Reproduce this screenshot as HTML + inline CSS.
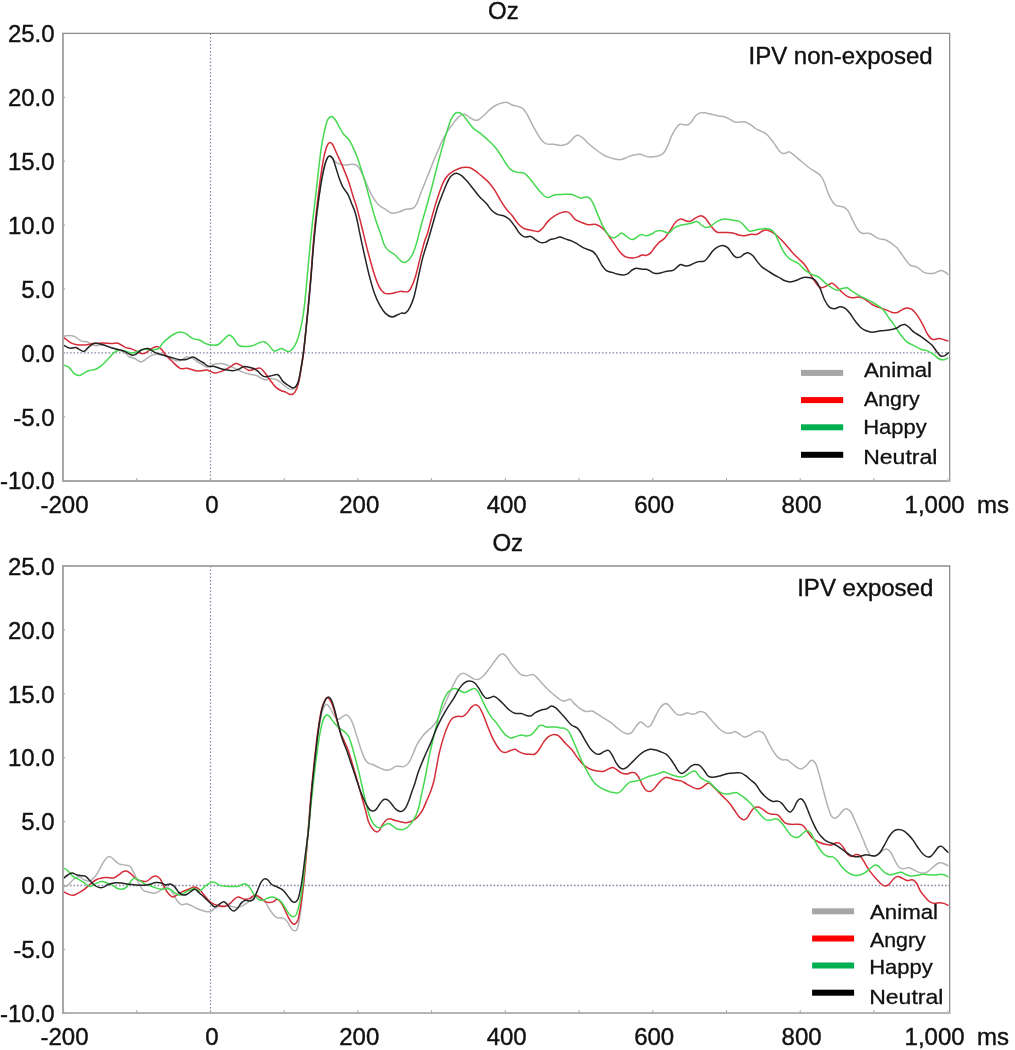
<!DOCTYPE html>
<html><head><meta charset="utf-8"><title>Oz ERP</title>
<style>
html,body{margin:0;padding:0;background:#fff;}
body{width:1015px;height:1050px;overflow:hidden;}
svg{display:block;position:absolute;left:0;top:0;will-change:transform;}
text{font-family:"Liberation Sans",sans-serif;fill:#111;stroke:#111;stroke-width:0.4px;stroke-linejoin:round;}
text.lg{stroke-width:0.3px;}
</style></head><body>
<svg width="1015" height="1050" viewBox="0 0 1015 1050">
<rect width="1015" height="1050" fill="#fff"/>
<g id="p1">
<line x1="63.0" y1="352.9" x2="949.65" y2="352.9" stroke="#8585a8" stroke-width="1.3" stroke-dasharray="1.6 1.9"/>
<line x1="210.5" y1="33.4" x2="210.5" y2="480.95" stroke="#8585a8" stroke-width="1.2" stroke-dasharray="1.6 1.9"/>
<path d="M63.1,336.4C64.0,336.2 66.7,335.4 68.6,335.4C70.5,335.4 72.2,335.4 74.3,336.4C76.4,337.3 79.3,340.2 81.4,341.1C83.5,342.0 85.2,341.1 87.1,341.7C89.0,342.3 91.2,344.3 92.9,345.0C94.6,345.7 95.4,345.7 97.1,345.7C98.8,345.7 100.3,344.6 102.9,345.0C105.5,345.4 109.6,346.8 112.9,347.9C116.2,349.0 120.3,350.0 122.9,351.4C125.5,352.8 126.7,355.2 128.6,356.4C130.5,357.5 132.3,357.4 134.3,358.3C136.3,359.2 138.8,361.7 140.7,361.9C142.6,362.1 143.9,360.4 145.7,359.3C147.5,358.2 149.5,356.2 151.4,355.4C153.3,354.6 154.7,354.2 157.1,354.3C159.5,354.4 162.8,354.8 165.7,355.7C168.6,356.6 171.9,359.2 174.3,360.0C176.7,360.8 178.0,361.2 180.0,360.7C182.0,360.2 184.2,357.5 186.4,357.1C188.6,356.8 190.9,357.7 192.9,358.6C194.9,359.5 196.9,361.4 198.6,362.5C200.3,363.6 201.6,364.2 203.0,365.0C204.4,365.8 205.2,367.2 207.1,367.1C209.0,367.0 211.9,364.9 214.3,364.3C216.7,363.7 219.0,363.4 221.4,363.6C223.8,363.8 226.2,364.9 228.6,365.7C231.0,366.5 233.3,367.5 235.7,368.6C238.1,369.7 240.5,371.2 242.9,372.1C245.3,373.1 247.6,373.7 250.0,374.3C252.4,374.9 254.7,374.8 257.1,375.7C259.5,376.6 261.9,379.2 264.3,379.7C266.7,380.2 269.3,378.6 271.4,378.6C273.5,378.7 275.2,379.1 277.1,380.0C279.0,380.9 281.0,382.9 282.9,384.3C284.8,385.7 286.9,387.8 288.6,388.6C290.3,389.4 291.5,389.5 292.9,389.0C294.3,388.5 295.9,388.5 297.1,385.7C298.4,382.9 299.3,377.6 300.4,372.0C301.4,366.4 302.4,359.5 303.4,352.0C304.3,344.5 305.3,334.9 306.1,327.0C306.9,319.1 307.6,313.0 308.4,304.3C309.2,295.6 310.2,284.9 311.0,275.0C311.8,265.1 312.4,255.6 313.4,245.0C314.4,234.4 315.6,222.0 316.9,211.4C318.2,200.8 319.9,189.2 321.2,181.4C322.5,173.6 323.7,168.5 324.8,164.5C325.9,160.5 326.8,158.8 327.7,157.5C328.6,156.2 328.9,155.9 330.0,156.4C331.1,156.9 332.9,159.5 334.3,160.7C335.7,161.9 336.9,162.9 338.6,163.6C340.3,164.3 342.2,164.9 344.3,165.0C346.4,165.1 349.4,164.3 351.4,164.3C353.4,164.3 355.0,164.2 356.4,165.0C357.8,165.8 358.7,167.0 360.0,169.3C361.3,171.6 362.9,175.4 364.3,178.6C365.7,181.8 367.2,185.5 368.6,188.6C370.0,191.7 371.2,194.4 372.9,197.1C374.6,199.8 376.5,203.0 378.6,205.0C380.7,207.0 383.6,208.0 385.7,209.3C387.8,210.7 389.2,212.6 391.4,213.1C393.5,213.6 396.2,212.7 398.6,212.1C401.0,211.5 403.3,209.9 405.7,209.3C408.1,208.7 411.1,209.1 412.9,208.3C414.7,207.5 415.5,205.7 416.4,204.3C417.3,203.0 417.3,202.4 418.2,200.2C419.1,198.0 420.2,194.5 421.5,191.3C422.8,188.1 424.3,184.3 425.7,180.8C427.1,177.3 428.6,173.7 429.9,170.4C431.2,167.1 432.3,164.1 433.6,160.9C434.9,157.7 436.3,154.6 437.7,151.3C439.1,148.0 440.4,144.6 442.1,141.2C443.8,137.8 446.0,133.8 447.9,130.7C449.8,127.6 451.7,125.3 453.6,122.9C455.5,120.5 457.5,117.8 459.3,116.4C461.1,115.0 462.6,114.2 464.3,114.3C466.0,114.4 467.6,116.1 469.3,117.1C471.0,118.0 472.8,119.6 474.3,120.0C475.9,120.4 477.1,120.4 478.6,119.7C480.2,119.0 481.8,117.3 483.6,115.7C485.4,114.1 487.2,111.8 489.3,110.0C491.4,108.2 494.3,106.2 496.4,105.0C498.5,103.8 500.3,103.3 502.1,102.9C503.9,102.5 505.4,102.1 507.1,102.4C508.8,102.8 510.3,104.3 512.1,105.0C513.9,105.7 516.1,105.8 517.9,106.4C519.7,107.0 521.4,107.3 522.9,108.6C524.4,109.9 525.7,111.9 527.1,114.3C528.5,116.7 529.9,119.9 531.4,122.9C532.9,125.9 534.7,129.2 536.4,132.1C538.1,134.9 539.7,138.0 541.4,140.0C543.1,142.0 544.4,143.2 546.4,143.9C548.4,144.6 551.2,144.1 553.6,144.3C556.0,144.6 558.6,145.4 560.7,145.4C562.8,145.4 564.9,144.9 566.4,144.3C567.9,143.7 568.6,142.9 570.0,141.6C571.4,140.3 573.6,137.4 575.0,136.4C576.4,135.4 577.2,135.0 578.6,135.4C580.0,135.8 581.8,137.1 583.6,138.6C585.4,140.1 587.2,142.4 589.3,144.3C591.4,146.2 594.0,148.2 596.4,150.0C598.8,151.8 601.2,153.7 603.6,155.0C606.0,156.3 608.3,157.1 610.7,157.9C613.1,158.7 616.0,159.4 617.9,159.6C619.8,159.8 620.4,159.8 622.1,159.3C623.8,158.9 626.0,157.6 627.9,156.9C629.8,156.2 631.6,155.4 633.6,155.0C635.6,154.6 638.2,154.2 640.0,154.3C641.8,154.4 642.8,155.2 644.3,155.7C645.8,156.2 647.5,157.0 649.3,157.1C651.1,157.2 653.7,156.6 655.0,156.5C656.3,156.4 655.8,156.9 657.1,156.4C658.4,155.9 661.2,155.2 662.9,153.6C664.6,152.0 665.7,150.0 667.1,147.1C668.5,144.2 670.0,139.5 671.4,136.4C672.8,133.3 674.3,130.6 675.7,128.6C677.1,126.6 678.6,124.9 680.0,124.3C681.4,123.7 683.0,124.6 684.3,124.7C685.6,124.8 686.7,125.4 687.9,125.0C689.1,124.6 690.1,123.6 691.4,122.1C692.7,120.5 694.3,117.2 695.7,115.7C697.1,114.2 698.3,113.4 700.0,112.9C701.7,112.4 703.8,112.7 705.7,112.9C707.6,113.1 709.2,113.8 711.4,114.3C713.5,114.8 716.5,115.6 718.6,116.0C720.8,116.4 722.4,116.2 724.3,116.7C726.2,117.2 728.2,118.4 730.0,119.3C731.8,120.2 733.3,121.6 735.0,122.1C736.7,122.6 738.3,122.1 740.0,122.1C741.7,122.1 743.3,121.5 745.0,121.9C746.7,122.3 748.2,123.2 750.0,124.3C751.8,125.4 753.8,127.4 755.7,128.6C757.6,129.8 759.7,130.6 761.4,131.4C763.1,132.2 764.3,132.5 765.7,133.6C767.1,134.7 768.6,136.2 770.0,137.9C771.4,139.6 772.9,141.6 774.3,143.6C775.7,145.6 777.3,148.4 778.6,150.0C779.9,151.6 780.9,152.8 782.1,153.3C783.3,153.8 784.5,153.4 785.7,153.2C786.9,153.0 787.7,151.4 789.2,151.9C790.8,152.4 792.9,154.3 795.0,156.0C797.1,157.7 799.3,159.7 801.8,161.8C804.3,163.9 807.0,166.3 810.1,168.5C813.2,170.7 817.8,172.8 820.2,175.2C822.6,177.6 822.9,179.3 824.4,182.8C825.9,186.3 827.6,192.5 829.4,196.2C831.2,199.9 833.1,203.2 835.3,205.0C837.5,206.8 840.7,205.8 842.8,206.7C844.9,207.6 846.3,208.4 847.8,210.4C849.3,212.4 850.6,216.0 852.0,218.8C853.4,221.6 854.7,224.8 856.2,227.2C857.7,229.6 859.0,231.9 861.2,233.0C863.4,234.1 867.2,232.8 869.6,233.5C872.0,234.2 873.8,236.0 875.5,236.9C877.2,237.8 877.9,238.4 879.6,238.9C881.3,239.4 883.4,238.9 885.5,239.7C887.6,240.5 890.2,242.5 892.2,243.9C894.2,245.3 895.2,245.9 897.2,248.1C899.2,250.3 901.8,254.5 903.9,257.3C906.0,260.1 907.6,263.1 909.8,264.8C912.0,266.5 914.9,266.1 917.3,267.4C919.7,268.7 922.0,271.4 924.0,272.4C926.0,273.4 927.4,273.4 929.1,273.5C930.8,273.6 932.2,273.7 934.1,273.2C936.0,272.7 939.0,270.6 940.8,270.4C942.6,270.2 943.8,271.3 945.0,272.0C946.2,272.7 947.3,274.0 947.8,274.4" fill="none" stroke="#b2b2b2" stroke-width="1.5" stroke-linejoin="round" stroke-linecap="round"/>
<path d="M63.1,337.1C63.8,337.6 65.7,339.0 67.1,340.0C68.5,341.0 69.7,342.3 71.4,343.1C73.1,343.9 74.5,344.4 77.1,344.7C79.7,345.0 84.5,344.9 87.1,344.7C89.7,344.5 90.3,343.9 92.9,343.6C95.5,343.3 99.8,342.9 102.9,342.9C106.0,342.9 109.0,343.6 111.4,343.6C113.8,343.6 115.4,342.7 117.1,342.9C118.8,343.1 120.0,344.2 121.4,345.0C122.8,345.8 124.0,347.0 125.7,347.6C127.4,348.2 129.5,348.3 131.4,348.9C133.3,349.5 135.4,350.6 137.1,351.4C138.8,352.2 140.0,353.4 141.4,353.6C142.8,353.9 144.0,353.7 145.7,352.9C147.4,352.1 149.5,349.7 151.4,348.6C153.3,347.5 155.4,346.3 157.1,346.4C158.8,346.5 160.0,347.9 161.4,349.3C162.8,350.7 164.0,353.1 165.7,355.0C167.4,356.9 169.0,358.5 171.4,360.7C173.8,362.9 177.4,367.0 180.0,368.3C182.6,369.6 184.7,368.0 187.1,368.3C189.5,368.6 192.2,369.9 194.3,370.4C196.5,370.8 197.9,371.1 200.0,371.0C202.1,370.9 204.7,369.7 207.1,370.0C209.5,370.3 211.9,372.7 214.3,372.9C216.7,373.1 219.0,372.2 221.4,371.4C223.8,370.6 226.2,369.2 228.6,367.9C231.0,366.6 233.6,364.0 235.7,363.6C237.8,363.2 239.2,364.6 241.4,365.7C243.6,366.8 246.4,369.7 248.6,370.3C250.8,370.9 252.4,369.7 254.3,369.3C256.2,368.9 258.3,367.6 260.0,368.1C261.7,368.6 262.6,370.1 264.3,372.1C266.0,374.1 268.1,377.5 270.0,380.0C271.9,382.5 273.8,385.3 275.7,387.1C277.6,388.9 279.7,389.9 281.4,390.7C283.1,391.5 284.1,391.5 285.7,392.1C287.2,392.8 289.1,394.6 290.7,394.6C292.2,394.6 293.7,394.1 295.0,392.1C296.3,390.2 297.5,387.1 298.6,382.9C299.7,378.7 300.6,372.1 301.4,367.1C302.2,362.1 302.8,359.6 303.6,352.9C304.4,346.2 305.4,335.1 306.2,327.0C307.0,318.9 307.6,313.0 308.4,304.3C309.2,295.6 310.1,285.7 311.0,275.0C311.9,264.3 312.7,250.6 313.6,240.0C314.5,229.4 315.3,221.2 316.4,211.4C317.5,201.6 318.8,190.2 320.0,181.4C321.2,172.6 322.4,164.6 323.6,158.6C324.8,152.6 326.0,148.4 327.1,145.7C328.2,143.0 329.0,142.7 330.0,142.6C331.0,142.5 331.7,143.1 332.9,145.0C334.1,146.9 335.4,150.6 337.1,154.3C338.8,158.0 341.0,162.6 342.9,167.1C344.8,171.6 346.9,176.6 348.6,181.4C350.3,186.2 351.5,191.2 352.9,195.7C354.3,200.2 355.4,202.6 357.1,208.6C358.8,214.6 361.0,223.8 362.9,231.4C364.8,239.0 366.7,247.2 368.6,254.3C370.5,261.4 372.5,268.8 374.3,274.3C376.1,279.8 377.6,284.0 379.3,287.1C381.0,290.2 382.3,292.0 384.3,293.1C386.3,294.2 388.8,293.9 391.4,293.6C394.0,293.3 397.2,291.7 400.0,291.4C402.8,291.1 406.0,292.4 407.9,291.7C409.8,291.0 410.1,289.8 411.4,287.1C412.7,284.4 414.3,280.4 415.7,275.7C417.1,270.9 418.5,264.5 420.0,258.6C421.5,252.7 423.5,244.8 424.8,240.5C426.1,236.2 426.5,236.7 427.6,233.0C428.7,229.3 430.1,223.3 431.5,218.5C432.9,213.7 434.3,208.4 435.7,203.9C437.1,199.4 438.5,195.0 439.8,191.3C441.1,187.6 442.2,184.5 443.5,181.9C444.8,179.3 445.9,177.4 447.7,175.6C449.4,173.8 451.6,172.2 454.0,170.9C456.4,169.6 459.8,168.2 462.4,167.6C464.9,167.0 467.2,167.1 469.3,167.6C471.4,168.1 472.9,169.2 475.0,170.7C477.1,172.2 479.7,174.4 482.1,176.4C484.5,178.4 487.2,180.5 489.3,182.9C491.4,185.3 493.1,187.7 495.0,190.7C496.9,193.7 498.8,197.6 500.7,200.7C502.6,203.8 504.5,206.8 506.4,209.3C508.3,211.8 510.2,213.1 512.1,215.5C514.0,217.9 516.0,221.4 517.9,223.5C519.8,225.6 521.2,227.2 523.6,228.3C526.0,229.5 529.6,229.9 532.1,230.4C534.6,230.9 536.8,231.8 538.6,231.4C540.4,231.0 541.4,229.6 542.9,227.9C544.4,226.2 545.9,223.4 547.9,221.4C549.9,219.4 552.6,217.2 555.0,215.7C557.4,214.2 560.0,213.0 562.1,212.4C564.2,211.8 566.4,211.7 567.9,212.1C569.4,212.5 570.2,213.8 571.4,215.0C572.6,216.2 573.5,218.1 575.0,219.3C576.5,220.5 578.6,221.2 580.7,222.1C582.9,223.0 585.5,224.3 587.9,224.7C590.3,225.1 593.0,224.0 595.0,224.3C597.0,224.6 598.3,225.3 600.0,226.4C601.7,227.5 603.2,228.7 605.0,230.7C606.8,232.7 608.8,235.9 610.7,238.6C612.6,241.3 614.6,244.6 616.4,247.1C618.2,249.6 619.7,251.9 621.4,253.6C623.1,255.3 624.5,256.4 626.4,257.1C628.3,257.8 631.0,257.9 632.9,257.9C634.8,257.9 636.4,257.4 637.9,256.9C639.4,256.4 640.7,255.3 642.1,255.0C643.5,254.7 645.0,255.7 646.4,255.3C647.8,255.0 649.3,254.3 650.7,252.9C652.1,251.5 653.6,248.8 655.0,247.1C656.4,245.4 657.5,243.9 659.0,242.5C660.5,241.1 662.5,240.6 664.3,238.6C666.1,236.6 668.1,233.4 670.0,230.7C671.9,227.9 673.9,224.0 675.7,222.1C677.5,220.2 679.0,219.2 680.7,219.0C682.4,218.8 684.2,220.3 685.7,220.7C687.2,221.1 688.3,221.9 690.0,221.4C691.7,220.9 693.9,218.9 695.7,217.9C697.5,216.9 699.2,215.7 700.7,215.7C702.2,215.7 703.6,216.6 705.0,217.9C706.4,219.2 707.9,221.7 709.3,223.6C710.7,225.5 712.2,227.8 713.6,229.3C715.0,230.8 715.9,231.9 717.9,232.4C719.9,232.9 723.2,232.3 725.7,232.4C728.2,232.5 730.8,232.5 732.9,232.9C735.0,233.3 736.7,234.5 738.6,235.0C740.5,235.5 742.2,235.8 744.3,235.7C746.4,235.6 749.3,234.5 751.4,234.3C753.5,234.1 755.2,234.9 757.1,234.3C759.0,233.7 761.4,231.4 762.9,230.7C764.4,230.0 765.0,229.8 766.4,230.0C767.8,230.2 769.6,231.0 771.4,231.9C773.2,232.8 775.2,234.1 777.1,235.7C779.0,237.3 781.0,239.5 782.9,241.5C784.8,243.5 787.1,246.2 788.6,247.9C790.1,249.6 790.1,250.0 791.7,251.8C793.3,253.6 796.2,256.3 798.4,258.5C800.6,260.7 803.1,262.7 805.1,265.2C807.1,267.7 808.4,270.8 810.1,273.6C811.8,276.4 813.5,279.6 815.2,281.9C816.9,284.2 818.5,286.7 820.2,287.5C821.9,288.3 823.2,287.3 825.2,286.6C827.2,285.9 830.0,283.2 831.9,283.3C833.8,283.4 835.2,285.5 836.9,287.0C838.6,288.5 840.2,290.7 842.0,292.3C843.8,293.9 846.0,295.8 847.8,296.7C849.6,297.6 851.0,297.8 852.8,297.8C854.6,297.9 856.6,296.7 858.7,297.0C860.8,297.3 863.2,298.2 865.4,299.5C867.6,300.8 869.9,303.2 872.1,304.5C874.3,305.8 876.6,306.5 878.8,307.4C881.0,308.2 883.3,308.8 885.5,309.6C887.7,310.4 890.2,311.9 892.2,312.4C894.2,312.9 895.5,313.1 897.2,312.6C898.9,312.1 900.6,310.4 902.3,309.6C904.0,308.8 905.6,307.9 907.3,307.9C909.0,307.9 910.6,308.4 912.3,309.6C914.0,310.9 915.6,313.0 917.3,315.4C919.0,317.8 920.7,320.7 922.4,323.8C924.1,326.9 925.7,331.3 927.4,333.9C929.1,336.5 930.4,338.6 932.4,339.4C934.4,340.2 937.1,338.4 939.1,338.5C941.1,338.6 942.7,339.3 944.1,339.7C945.5,340.1 947.2,340.7 947.8,340.9" fill="none" stroke="#d52c38" stroke-width="1.5" stroke-linejoin="round" stroke-linecap="round"/>
<path d="M63.1,365.0C64.0,365.4 66.7,365.7 68.6,367.1C70.5,368.5 72.5,372.2 74.3,373.6C76.1,375.0 77.6,375.5 79.3,375.4C81.0,375.3 82.8,373.7 84.3,372.9C85.8,372.1 86.7,371.3 88.6,370.7C90.5,370.1 93.6,370.1 95.7,369.3C97.8,368.5 99.5,367.2 101.4,365.7C103.3,364.1 105.2,362.0 107.1,360.0C109.0,358.0 111.2,355.2 112.9,353.6C114.6,352.1 115.2,351.2 117.1,350.7C119.0,350.2 121.9,350.3 124.3,350.7C126.7,351.1 129.3,352.7 131.4,352.9C133.5,353.1 134.9,352.3 137.1,351.7C139.2,351.1 141.9,349.6 144.3,349.3C146.7,349.0 149.0,350.1 151.4,350.0C153.8,349.9 156.7,349.8 158.6,348.6C160.5,347.4 161.2,344.7 162.9,342.9C164.6,341.1 166.7,339.4 168.6,337.9C170.5,336.4 172.4,335.0 174.3,334.0C176.2,333.0 178.1,332.2 180.0,332.1C181.9,332.0 183.5,332.5 185.7,333.6C187.8,334.7 190.5,337.5 192.9,338.6C195.3,339.7 197.9,339.4 200.0,340.2C202.1,341.0 203.8,342.8 205.7,343.6C207.6,344.4 209.4,344.8 211.4,345.0C213.4,345.2 215.9,345.6 217.9,344.7C219.9,343.8 221.7,341.3 223.6,339.7C225.5,338.1 227.5,335.1 229.3,335.0C231.1,334.9 232.6,337.5 234.3,339.3C236.0,341.1 236.5,344.6 239.3,345.7C242.2,346.8 248.2,346.5 251.4,346.0C254.6,345.5 256.5,343.6 258.6,342.9C260.8,342.2 262.6,341.3 264.3,341.7C266.0,342.1 266.9,343.4 268.6,345.0C270.3,346.6 272.2,350.5 274.3,351.1C276.4,351.7 279.0,348.5 281.4,348.6C283.8,348.7 286.5,352.1 288.6,351.7C290.8,351.3 292.7,348.8 294.3,346.4C295.9,344.0 296.9,341.7 298.2,337.5C299.5,333.3 301.0,326.9 302.1,321.4C303.2,315.9 303.5,314.3 304.6,304.3C305.7,294.3 307.4,274.5 308.6,261.4C309.9,248.3 311.1,235.1 312.1,225.7C313.1,216.3 313.6,213.3 314.6,205.0C315.6,196.7 316.8,185.3 317.9,175.7C319.0,166.0 320.2,154.9 321.4,147.1C322.6,139.2 323.9,133.2 325.0,128.6C326.1,124.0 326.8,121.3 327.9,119.3C329.0,117.3 330.2,116.4 331.4,116.4C332.6,116.4 333.7,117.5 335.0,119.3C336.3,121.1 337.9,124.6 339.3,127.1C340.7,129.6 342.1,132.3 343.6,134.3C345.2,136.3 347.1,137.2 348.6,139.3C350.2,141.4 351.5,144.1 352.9,147.1C354.3,150.1 355.7,153.3 357.1,157.1C358.5,160.9 360.0,165.5 361.4,170.0C362.8,174.5 364.3,179.3 365.7,184.3C367.1,189.3 368.3,194.1 370.0,200.0C371.7,205.9 373.8,214.0 375.7,220.0C377.6,226.0 380.0,231.8 381.4,236.0C382.8,240.2 383.1,242.6 384.3,245.0C385.5,247.4 386.9,249.1 388.6,250.7C390.3,252.2 392.4,252.8 394.3,254.3C396.2,255.9 398.3,258.6 400.0,260.0C401.7,261.4 402.9,262.6 404.3,262.6C405.7,262.6 407.2,261.5 408.6,260.0C410.0,258.5 411.5,256.7 412.9,253.6C414.3,250.5 415.7,246.3 417.1,241.4C418.5,236.5 420.0,229.6 421.4,224.3C422.8,219.0 424.1,215.0 425.7,209.5C427.2,204.0 428.9,198.2 430.7,191.5C432.5,184.8 434.5,176.6 436.4,169.3C438.3,162.0 440.3,154.3 442.1,147.9C443.9,141.5 445.6,135.6 447.1,130.7C448.7,125.8 450.1,121.4 451.4,118.6C452.7,115.8 453.8,114.6 455.0,113.6C456.2,112.6 457.3,112.4 458.6,112.6C459.9,112.8 461.3,113.5 462.9,115.0C464.4,116.5 466.1,119.1 467.9,121.4C469.7,123.7 471.5,126.6 473.6,128.6C475.7,130.6 478.3,131.7 480.7,133.6C483.1,135.5 485.5,137.8 487.9,140.0C490.3,142.2 492.9,144.6 495.0,147.1C497.1,149.6 498.8,152.1 500.7,155.0C502.6,157.9 504.7,161.9 506.4,164.3C508.1,166.7 509.0,168.3 510.7,169.6C512.4,170.9 514.2,171.5 516.4,172.1C518.5,172.7 521.7,172.2 523.6,172.9C525.5,173.6 526.2,174.6 527.9,176.4C529.6,178.2 531.7,181.2 533.6,183.6C535.5,186.0 537.5,188.6 539.3,190.7C541.1,192.8 542.8,194.9 544.3,196.0C545.8,197.1 546.8,197.6 548.6,197.4C550.4,197.2 552.8,195.3 555.0,194.8C557.2,194.3 559.4,194.5 562.1,194.4C564.8,194.3 569.0,194.0 571.4,194.3C573.8,194.6 574.8,195.8 576.4,196.4C578.0,197.0 579.2,198.0 580.7,198.1C582.2,198.2 584.3,196.9 585.7,196.9C587.1,196.9 588.1,196.9 589.3,197.9C590.5,198.9 591.7,200.7 592.9,202.9C594.1,205.2 595.1,208.3 596.4,211.4C597.7,214.5 599.3,218.3 600.7,221.4C602.1,224.5 603.6,227.6 605.0,230.0C606.4,232.4 607.9,234.4 609.3,235.7C610.7,237.0 612.2,237.9 613.6,237.9C615.0,237.9 616.6,236.5 617.9,235.7C619.2,234.9 620.1,233.1 621.4,233.1C622.7,233.1 624.3,234.7 625.7,235.7C627.1,236.7 628.7,238.3 630.0,238.9C631.3,239.5 632.3,239.7 633.6,239.3C634.9,238.9 636.6,237.2 637.9,236.4C639.2,235.6 640.0,234.7 641.4,234.6C642.8,234.5 644.6,235.8 646.4,235.7C648.2,235.6 650.5,234.5 652.1,233.8C653.7,233.1 654.2,231.9 655.7,231.4C657.2,230.9 659.2,230.4 661.4,230.7C663.5,230.9 666.5,233.4 668.6,232.9C670.8,232.4 672.2,229.2 674.3,227.9C676.4,226.6 678.8,225.7 681.4,225.0C684.0,224.3 687.4,224.2 690.0,223.6C692.6,223.0 695.2,221.2 697.1,221.4C699.0,221.6 699.9,224.0 701.4,225.0C702.9,226.0 704.7,227.5 706.4,227.6C708.1,227.7 709.6,226.7 711.4,225.7C713.2,224.7 715.0,222.5 717.1,221.4C719.2,220.3 721.9,219.2 724.3,219.0C726.7,218.8 729.0,219.7 731.4,220.0C733.8,220.3 736.7,220.4 738.6,221.1C740.5,221.8 741.2,222.7 742.9,224.3C744.6,225.9 746.9,229.6 748.6,230.7C750.3,231.8 751.2,230.9 752.9,230.7C754.6,230.5 756.5,229.7 758.6,229.3C760.7,229.0 763.6,228.5 765.7,228.6C767.8,228.7 769.7,228.9 771.4,230.0C773.1,231.1 774.4,232.8 775.7,235.0C777.0,237.2 778.1,240.4 779.3,243.0C780.5,245.6 781.6,248.5 782.9,250.7C784.2,252.9 785.6,254.8 787.1,256.4C788.6,258.0 789.8,259.0 791.7,260.2C793.6,261.4 796.2,261.8 798.4,263.5C800.6,265.2 802.9,268.4 805.1,270.2C807.3,272.0 809.6,273.3 811.8,274.4C814.0,275.5 816.3,275.5 818.5,276.9C820.7,278.3 823.0,281.0 825.2,282.8C827.4,284.6 830.0,286.6 831.9,287.8C833.8,289.1 835.2,290.2 836.9,290.3C838.6,290.4 840.3,289.0 842.0,288.6C843.7,288.2 845.3,287.4 847.0,287.8C848.7,288.2 850.0,289.9 852.0,291.1C854.0,292.4 856.5,294.0 858.7,295.3C860.9,296.6 863.2,297.6 865.4,298.7C867.6,299.8 869.9,300.8 872.1,302.0C874.3,303.2 876.8,304.8 878.8,306.2C880.8,307.6 882.1,308.4 883.8,310.4C885.5,312.3 887.2,315.5 888.9,317.9C890.6,320.3 891.9,321.8 893.9,324.6C895.9,327.4 898.4,331.8 900.6,334.7C902.8,337.6 905.1,340.4 907.3,342.2C909.5,344.0 911.8,344.4 914.0,345.6C916.2,346.8 918.5,348.4 920.7,349.3C922.9,350.2 925.2,350.0 927.4,350.9C929.6,351.8 932.1,353.4 934.1,354.8C936.1,356.2 937.4,358.2 939.1,359.0C940.8,359.8 942.7,359.9 944.1,359.8C945.5,359.7 947.2,358.4 947.8,358.1" fill="none" stroke="#44d94f" stroke-width="1.5" stroke-linejoin="round" stroke-linecap="round"/>
<path d="M63.1,345.0C64.2,345.6 67.9,347.9 70.0,348.3C72.1,348.7 73.4,347.1 75.7,347.6C78.0,348.1 81.4,351.5 83.6,351.4C85.8,351.3 86.8,348.5 88.6,347.1C90.4,345.8 92.2,343.8 94.3,343.3C96.4,342.8 98.3,343.5 101.4,344.3C104.5,345.1 109.3,347.2 112.9,348.3C116.5,349.4 119.8,349.6 122.9,350.7C126.0,351.8 129.3,354.4 131.4,355.0C133.5,355.6 134.0,355.1 135.7,354.3C137.4,353.5 139.4,350.9 141.4,350.0C143.4,349.1 145.8,348.2 147.9,348.6C150.1,349.0 151.8,351.0 154.3,352.1C156.8,353.2 159.8,354.0 162.9,355.0C166.0,356.0 170.1,357.1 172.9,357.9C175.8,358.7 177.6,359.5 180.0,359.7C182.4,359.9 184.9,359.8 187.1,359.3C189.2,358.8 191.0,356.8 192.9,356.9C194.8,357.0 196.9,359.1 198.6,360.0C200.3,360.9 201.3,361.4 203.0,362.5C204.7,363.6 206.7,365.8 208.6,366.4C210.5,367.0 211.9,365.9 214.3,366.4C216.7,366.9 219.8,368.6 222.9,369.3C226.0,370.0 230.3,370.7 232.9,370.7C235.5,370.7 236.7,370.0 238.6,369.3C240.5,368.6 241.9,366.6 244.3,366.4C246.7,366.2 250.8,367.6 252.9,368.3C255.0,369.0 255.3,369.4 257.1,370.7C258.9,372.0 261.5,375.5 263.6,376.4C265.8,377.3 267.6,376.4 270.0,376.1C272.4,375.8 275.8,373.8 277.9,374.7C280.0,375.6 281.1,379.6 282.9,381.4C284.7,383.2 286.8,384.6 288.6,385.7C290.4,386.8 292.1,388.4 293.6,387.9C295.2,387.4 296.7,385.9 297.9,382.9C299.1,379.9 299.8,375.2 300.7,370.0C301.6,364.8 302.7,358.6 303.6,351.4C304.5,344.2 305.5,334.9 306.3,327.0C307.1,319.1 307.8,313.0 308.6,304.3C309.4,295.6 310.4,284.9 311.2,275.0C312.0,265.1 312.6,255.6 313.6,245.0C314.6,234.4 315.8,222.0 317.1,211.4C318.4,200.8 320.1,189.2 321.4,181.4C322.7,173.6 323.9,168.4 325.0,164.3C326.1,160.2 327.1,158.5 327.9,157.1C328.7,155.7 329.2,155.8 330.0,156.0C330.8,156.2 331.9,156.8 332.9,158.6C333.8,160.4 334.6,163.8 335.7,167.1C336.8,170.4 338.1,175.3 339.3,178.6C340.5,181.9 341.5,184.5 342.9,187.1C344.3,189.7 346.5,191.7 347.9,194.3C349.3,196.9 350.1,199.6 351.4,202.9C352.7,206.2 354.3,209.1 355.7,214.3C357.1,219.5 358.6,227.6 360.0,234.3C361.4,241.0 362.8,247.4 364.3,254.3C365.9,261.2 367.6,269.3 369.3,275.7C371.0,282.1 372.5,287.9 374.3,292.9C376.1,297.9 378.1,302.2 380.0,305.7C381.9,309.1 383.7,311.7 385.7,313.6C387.7,315.5 390.2,316.7 392.1,316.9C394.0,317.1 395.6,315.6 397.1,315.0C398.7,314.4 400.0,313.5 401.4,313.1C402.8,312.8 404.3,313.9 405.7,312.9C407.1,311.9 408.6,310.0 410.0,307.1C411.4,304.2 412.9,300.9 414.3,295.7C415.7,290.5 417.2,282.1 418.6,275.7C420.0,269.3 421.3,263.1 422.9,257.1C424.5,251.1 426.6,245.3 428.3,239.5C430.0,233.7 431.6,227.9 433.2,222.5C434.8,217.1 436.2,211.5 437.7,207.0C439.1,202.5 440.5,199.2 441.9,195.5C443.3,191.8 444.8,188.0 446.1,185.0C447.4,182.0 448.5,179.5 449.8,177.7C451.1,175.8 452.7,174.6 454.0,173.9C455.3,173.2 456.1,173.1 457.4,173.4C458.7,173.7 460.2,174.5 461.8,175.8C463.4,177.1 465.2,179.1 467.2,181.3C469.2,183.6 471.6,186.8 473.6,189.3C475.6,191.8 477.2,194.0 479.3,196.4C481.4,198.8 484.3,201.2 486.4,203.6C488.5,206.0 490.2,208.9 492.1,210.7C494.0,212.5 496.0,213.8 497.9,214.6C499.8,215.4 501.7,214.9 503.6,215.7C505.5,216.5 507.4,217.5 509.3,219.3C511.2,221.1 513.3,224.2 515.0,226.5C516.7,228.8 517.8,231.2 519.3,232.9C520.8,234.6 522.4,236.3 524.3,236.9C526.2,237.5 528.9,236.0 530.7,236.4C532.5,236.8 533.5,238.3 535.0,239.3C536.5,240.3 538.3,241.9 540.0,242.4C541.7,242.9 543.3,242.9 545.0,242.4C546.7,241.9 548.3,240.3 550.0,239.7C551.7,239.1 553.3,239.1 555.0,238.6C556.7,238.1 558.3,236.8 560.0,236.9C561.7,237.0 563.0,238.2 565.0,238.9C567.0,239.6 570.0,240.2 572.1,241.1C574.2,242.0 576.0,243.2 577.9,244.3C579.8,245.4 581.7,247.0 583.6,247.9C585.5,248.8 587.6,249.3 589.3,250.0C591.0,250.7 592.2,250.8 593.6,252.1C595.0,253.4 596.5,255.6 597.9,257.9C599.3,260.2 600.7,263.6 602.1,265.7C603.5,267.8 604.7,269.6 606.4,270.7C608.1,271.8 610.2,271.8 612.1,272.4C614.0,273.0 616.0,273.9 617.9,274.3C619.8,274.7 621.9,275.1 623.6,275.0C625.3,274.9 626.5,274.4 627.9,273.6C629.3,272.8 630.7,270.9 632.1,270.0C633.5,269.1 634.7,268.4 636.4,268.3C638.1,268.2 640.4,269.1 642.1,269.3C643.8,269.5 645.1,269.0 646.4,269.3C647.7,269.6 648.7,270.2 650.0,270.9C651.3,271.6 652.8,272.9 654.3,273.3C655.8,273.7 657.4,273.6 659.3,273.3C661.2,273.0 663.4,271.9 665.7,271.4C668.0,270.9 671.0,271.1 672.9,270.4C674.8,269.7 675.8,268.1 677.1,267.1C678.4,266.1 679.3,264.8 680.7,264.6C682.1,264.4 684.0,265.9 685.7,266.0C687.4,266.1 688.8,265.7 690.7,265.0C692.6,264.3 694.8,262.5 697.1,261.9C699.4,261.2 702.4,262.0 704.3,261.1C706.2,260.2 707.2,258.1 708.6,256.4C710.0,254.7 711.4,252.3 712.9,250.7C714.4,249.1 716.2,247.8 717.9,246.9C719.6,246.0 721.2,245.2 722.9,245.4C724.6,245.6 726.4,246.5 727.9,247.9C729.4,249.3 730.8,252.1 732.1,253.6C733.4,255.1 734.4,256.5 735.7,257.1C737.0,257.7 738.6,257.6 740.0,257.1C741.4,256.6 742.9,254.7 744.3,254.0C745.7,253.3 747.2,252.6 748.6,252.9C750.0,253.2 751.5,254.3 752.9,255.7C754.3,257.1 755.6,259.5 757.1,261.4C758.6,263.3 760.2,265.4 762.1,267.1C764.0,268.8 766.6,270.1 768.6,271.4C770.6,272.7 772.4,273.9 774.3,275.0C776.2,276.1 778.3,277.0 780.0,277.9C781.7,278.8 782.6,279.8 784.3,280.5C786.0,281.2 787.9,281.9 790.0,281.9C792.1,281.9 794.5,281.1 796.7,280.3C798.9,279.6 801.2,277.8 803.4,277.4C805.6,277.0 808.1,277.2 810.1,277.7C812.1,278.2 813.5,278.5 815.2,280.3C816.9,282.1 818.7,285.4 820.2,288.6C821.7,291.8 822.9,296.4 824.4,299.5C825.9,302.6 827.7,305.6 829.4,307.1C831.1,308.6 832.6,308.8 834.4,308.7C836.2,308.6 838.5,306.8 840.3,306.7C842.1,306.6 843.6,307.2 845.3,308.4C847.0,309.6 848.6,311.6 850.3,313.8C852.0,316.0 853.7,319.1 855.4,321.3C857.1,323.5 858.6,325.6 860.4,327.2C862.2,328.8 864.2,330.0 866.2,330.8C868.2,331.6 869.7,332.2 872.1,332.2C874.5,332.2 877.7,331.2 880.5,330.8C883.3,330.4 886.4,330.4 888.9,330.0C891.4,329.6 893.6,329.2 895.6,328.5C897.6,327.8 899.1,326.1 900.6,325.5C902.1,324.9 903.4,324.3 904.8,324.6C906.2,324.9 907.5,325.9 909.0,327.2C910.5,328.5 912.0,330.7 914.0,332.2C916.0,333.7 918.5,334.9 920.7,336.4C922.9,337.9 925.5,339.9 927.4,341.4C929.3,342.9 930.9,343.9 932.4,345.6C933.9,347.3 935.2,349.7 936.6,351.4C938.0,353.1 939.4,355.3 940.8,356.0C942.2,356.7 943.8,356.1 945.0,355.6C946.2,355.1 947.8,353.3 948.3,352.8" fill="none" stroke="#242424" stroke-width="1.5" stroke-linejoin="round" stroke-linecap="round"/>
<line x1="62.00" y1="33.4" x2="950.30" y2="33.4" stroke="#8c8c8c" stroke-width="1.25"/>
<line x1="949.65" y1="33.4" x2="949.65" y2="480.95" stroke="#8e8e8e" stroke-width="1.3"/>
<line x1="62.00" y1="480.95" x2="950.30" y2="480.95" stroke="#a8a8a8" stroke-width="1.9"/>
<line x1="63.0" y1="33.4" x2="63.0" y2="480.95" stroke="#a8a8a8" stroke-width="2.0"/>
<line x1="63.0" y1="480.7" x2="65.1" y2="480.7" stroke="#9a9a9a" stroke-width="1"/>
<line x1="63.0" y1="416.8" x2="65.1" y2="416.8" stroke="#9a9a9a" stroke-width="1"/>
<line x1="63.0" y1="352.9" x2="65.1" y2="352.9" stroke="#9a9a9a" stroke-width="1"/>
<line x1="63.0" y1="289.0" x2="65.1" y2="289.0" stroke="#9a9a9a" stroke-width="1"/>
<line x1="63.0" y1="225.1" x2="65.1" y2="225.1" stroke="#9a9a9a" stroke-width="1"/>
<line x1="63.0" y1="161.2" x2="65.1" y2="161.2" stroke="#9a9a9a" stroke-width="1"/>
<line x1="63.0" y1="97.3" x2="65.1" y2="97.3" stroke="#9a9a9a" stroke-width="1"/>
<line x1="63.0" y1="33.4" x2="65.1" y2="33.4" stroke="#9a9a9a" stroke-width="1"/>
<line x1="63.1" y1="480.95" x2="63.1" y2="478.05" stroke="#a4a4a4" stroke-width="1"/>
<line x1="136.8" y1="480.95" x2="136.8" y2="478.05" stroke="#a4a4a4" stroke-width="1"/>
<line x1="210.5" y1="480.95" x2="210.5" y2="478.05" stroke="#a4a4a4" stroke-width="1"/>
<line x1="284.2" y1="480.95" x2="284.2" y2="478.05" stroke="#a4a4a4" stroke-width="1"/>
<line x1="357.9" y1="480.95" x2="357.9" y2="478.05" stroke="#a4a4a4" stroke-width="1"/>
<line x1="431.6" y1="480.95" x2="431.6" y2="478.05" stroke="#a4a4a4" stroke-width="1"/>
<line x1="505.3" y1="480.95" x2="505.3" y2="478.05" stroke="#a4a4a4" stroke-width="1"/>
<line x1="579.0" y1="480.95" x2="579.0" y2="478.05" stroke="#a4a4a4" stroke-width="1"/>
<line x1="652.8" y1="480.95" x2="652.8" y2="478.05" stroke="#a4a4a4" stroke-width="1"/>
<line x1="726.5" y1="480.95" x2="726.5" y2="478.05" stroke="#a4a4a4" stroke-width="1"/>
<line x1="800.2" y1="480.95" x2="800.2" y2="478.05" stroke="#a4a4a4" stroke-width="1"/>
<line x1="873.9" y1="480.95" x2="873.9" y2="478.05" stroke="#a4a4a4" stroke-width="1"/>
<line x1="947.6" y1="480.95" x2="947.6" y2="478.05" stroke="#cdcdcd" stroke-width="1"/>
<text x="54.6" y="489.4" text-anchor="end" font-size="24">-10.0</text>
<text x="54.6" y="425.5" text-anchor="end" font-size="24">-5.0</text>
<text x="54.6" y="361.6" text-anchor="end" font-size="24">0.0</text>
<text x="54.6" y="297.7" text-anchor="end" font-size="24">5.0</text>
<text x="54.6" y="233.8" text-anchor="end" font-size="24">10.0</text>
<text x="54.6" y="169.9" text-anchor="end" font-size="24">15.0</text>
<text x="54.6" y="106.0" text-anchor="end" font-size="24">20.0</text>
<text x="54.6" y="42.1" text-anchor="end" font-size="24">25.0</text>
<text x="64.5" y="513.2" text-anchor="middle" font-size="24">-200</text>
<text x="211.9" y="513.2" text-anchor="middle" font-size="24">0</text>
<text x="359.3" y="513.2" text-anchor="middle" font-size="24">200</text>
<text x="506.7" y="513.2" text-anchor="middle" font-size="24">400</text>
<text x="654.2" y="513.2" text-anchor="middle" font-size="24">600</text>
<text x="801.6" y="513.2" text-anchor="middle" font-size="24">800</text>
<text x="904.6" y="513.2" font-size="24">1,000</text>
<text x="977" y="513.2" font-size="24">ms</text>
<text x="503.4" y="18.7" text-anchor="middle" font-size="24">Oz</text>
<text x="932.6" y="64.2" text-anchor="end" font-size="24">IPV non-exposed</text>
<rect x="801.0" y="369.9" width="42.2" height="6" fill="#a6a6a6"/>
<text transform="translate(864.0,377.1) scale(1.0866,1)" class="lg" font-size="20.5">Animal</text>
<rect x="801.0" y="397.1" width="42.2" height="6" fill="#ff0000"/>
<text transform="translate(864.0,406.3) scale(1.0418,1)" class="lg" font-size="20.5">Angry</text>
<rect x="801.0" y="424.3" width="42.2" height="6" fill="#00b050"/>
<text transform="translate(863.2,433.9) scale(1.0731,1)" class="lg" font-size="20.5">Happy</text>
<rect x="801.0" y="451.8" width="42.2" height="6" fill="#000000"/>
<text transform="translate(863.2,463.5) scale(1.1227,1)" class="lg" font-size="20.5">Neutral</text>
</g>
<g id="p2">
<line x1="63.0" y1="885.5" x2="949.65" y2="885.5" stroke="#8585a8" stroke-width="1.3" stroke-dasharray="1.6 1.9"/>
<line x1="210.5" y1="566.0" x2="210.5" y2="1013.0" stroke="#8585a8" stroke-width="1.2" stroke-dasharray="1.6 1.9"/>
<path d="M63.1,886.4C63.8,886.3 65.5,886.8 67.1,885.7C68.7,884.6 71.0,881.5 72.9,880.0C74.8,878.5 76.7,876.4 78.6,876.4C80.5,876.4 82.4,879.3 84.3,880.0C86.2,880.7 88.1,881.4 90.0,880.7C91.9,880.0 94.0,877.7 95.7,875.7C97.4,873.7 98.6,871.1 100.0,868.6C101.4,866.1 102.8,862.7 104.3,860.7C105.8,858.7 107.8,856.6 109.3,856.4C110.8,856.2 112.0,858.1 113.6,859.3C115.1,860.5 116.8,862.6 118.6,863.6C120.4,864.6 122.4,864.5 124.3,865.0C126.2,865.5 128.3,865.0 130.0,866.4C131.7,867.8 132.9,870.9 134.3,873.6C135.7,876.4 137.2,880.2 138.6,882.9C140.0,885.6 141.2,888.5 142.9,890.0C144.6,891.5 146.7,891.6 148.6,892.1C150.5,892.6 152.4,893.5 154.3,893.3C156.2,893.1 158.2,891.7 160.0,890.7C161.8,889.7 163.4,887.5 165.0,887.1C166.6,886.8 167.9,887.4 169.3,888.6C170.7,889.8 172.3,892.3 173.6,894.3C174.9,896.3 175.8,899.0 177.1,900.7C178.4,902.4 179.7,904.1 181.4,904.6C183.1,905.1 185.2,903.6 187.1,903.9C189.0,904.2 191.0,905.5 192.9,906.4C194.8,907.3 196.5,908.5 198.6,909.3C200.7,910.1 203.7,911.0 205.7,911.4C207.7,911.8 209.0,912.0 210.7,911.4C212.4,910.8 213.9,908.8 215.7,907.9C217.5,907.0 219.2,906.1 221.4,905.7C223.6,905.3 226.2,905.4 228.6,905.7C231.0,906.0 233.6,907.3 235.7,907.4C237.8,907.5 239.5,907.1 241.4,906.4C243.3,905.6 245.2,904.3 247.1,902.9C249.0,901.5 251.2,899.0 252.9,897.9C254.6,896.8 255.7,896.3 257.1,896.4C258.5,896.5 260.0,897.5 261.4,898.6C262.8,899.7 264.3,901.0 265.7,902.9C267.1,904.8 268.6,907.9 270.0,910.0C271.4,912.1 273.0,914.4 274.3,915.7C275.6,917.0 276.5,917.5 277.9,917.9C279.3,918.3 281.4,917.3 282.9,917.9C284.4,918.5 285.7,919.6 287.1,921.4C288.5,923.2 290.2,927.0 291.4,928.6C292.6,930.2 293.4,930.6 294.3,930.7C295.2,930.8 296.3,931.1 297.1,929.3C297.9,927.5 298.6,923.9 299.3,920.0C300.0,916.1 300.7,911.7 301.4,905.7C302.1,899.8 302.9,892.2 303.6,884.3C304.3,876.3 305.0,867.0 305.8,858.0C306.6,849.0 307.2,840.6 308.2,830.0C309.1,819.4 310.4,806.2 311.5,794.3C312.6,782.4 313.9,769.3 315.1,758.6C316.3,747.9 317.5,737.6 318.6,730.0C319.7,722.4 320.8,717.0 321.8,713.0C322.8,709.0 323.7,707.5 324.5,706.0C325.3,704.5 325.5,704.0 326.4,704.3C327.3,704.6 328.7,706.0 330.0,707.9C331.3,709.8 332.9,713.8 334.3,715.7C335.7,717.6 337.2,719.2 338.6,719.3C340.0,719.4 341.6,717.1 342.9,716.4C344.2,715.7 345.2,714.8 346.4,715.0C347.6,715.2 348.8,716.1 350.0,717.9C351.2,719.7 352.4,722.5 353.6,725.7C354.8,728.9 355.9,733.3 357.1,737.1C358.3,740.9 359.5,745.1 360.7,748.6C361.9,752.1 363.1,755.5 364.3,757.9C365.5,760.3 366.6,761.8 367.9,762.9C369.2,764.0 370.6,763.7 372.1,764.3C373.6,764.9 375.3,765.9 377.1,766.7C378.9,767.5 381.2,768.7 382.9,769.3C384.6,769.9 385.7,770.4 387.1,770.3C388.5,770.2 390.0,769.5 391.4,768.9C392.8,768.2 394.3,766.8 395.7,766.4C397.1,766.0 398.6,766.4 400.0,766.4C401.4,766.4 402.9,767.0 404.3,766.4C405.7,765.8 407.2,764.9 408.6,762.9C410.0,760.9 411.5,757.4 412.9,754.3C414.3,751.2 415.4,747.4 417.1,744.3C418.8,741.2 421.0,738.1 422.9,735.7C424.8,733.3 427.2,731.4 428.6,730.0C430.0,728.6 430.2,728.9 431.5,727.5C432.8,726.1 434.6,724.3 436.4,721.4C438.2,718.5 440.2,714.0 442.1,710.0C444.0,706.0 446.0,701.4 447.9,697.1C449.8,692.8 451.8,687.9 453.6,684.3C455.4,680.7 456.9,677.5 458.6,675.7C460.3,673.9 461.9,673.3 463.6,673.3C465.3,673.3 466.9,674.8 468.6,675.7C470.3,676.6 471.9,678.3 473.6,678.9C475.3,679.5 476.9,679.8 478.6,679.3C480.3,678.8 481.8,677.5 483.6,675.7C485.4,673.9 487.4,671.1 489.3,668.6C491.2,666.1 493.3,662.9 495.0,660.7C496.7,658.5 498.0,656.5 499.3,655.4C500.6,654.3 501.7,653.8 502.9,654.0C504.1,654.2 505.1,654.9 506.4,656.4C507.7,657.9 509.1,660.8 510.7,662.9C512.2,665.0 514.0,667.4 515.7,669.3C517.4,671.2 518.9,673.2 520.7,674.3C522.5,675.4 524.4,675.7 526.4,675.7C528.4,675.8 531.0,674.1 532.9,674.6C534.8,675.1 536.1,676.9 537.9,678.6C539.7,680.3 541.7,683.0 543.6,685.0C545.5,687.0 547.4,688.9 549.3,690.7C551.2,692.5 553.2,694.2 555.0,695.7C556.8,697.2 558.5,698.7 560.0,699.6C561.5,700.5 562.6,701.0 564.3,701.0C566.0,701.0 568.3,698.9 570.0,699.3C571.7,699.7 572.6,702.0 574.3,703.6C576.0,705.2 578.1,707.3 580.0,708.6C581.9,709.9 583.7,711.0 585.7,711.4C587.7,711.8 590.1,710.6 592.1,711.1C594.1,711.6 595.9,713.1 597.9,714.3C599.9,715.5 602.0,716.9 604.3,718.3C606.5,719.7 609.3,721.3 611.4,722.9C613.5,724.5 615.2,726.4 617.1,727.9C619.0,729.4 621.1,731.1 622.9,732.1C624.7,733.1 626.4,734.0 627.9,734.0C629.4,734.0 630.7,733.5 632.1,732.1C633.5,730.7 635.0,727.4 636.4,725.7C637.8,724.0 639.4,722.3 640.7,722.1C642.0,721.9 643.1,723.5 644.3,724.3C645.5,725.1 646.7,727.1 647.9,727.1C649.1,727.1 650.1,726.2 651.4,724.3C652.7,722.4 654.3,718.4 655.7,715.7C657.1,713.0 658.6,709.9 660.0,707.9C661.4,705.9 663.0,704.6 664.3,704.0C665.6,703.4 666.6,703.4 667.9,704.3C669.2,705.2 670.7,707.7 672.1,709.3C673.5,710.9 674.9,713.0 676.4,714.0C677.9,715.0 679.6,715.2 681.4,715.0C683.2,714.8 685.2,713.0 687.1,712.9C689.0,712.8 691.2,714.3 692.9,714.3C694.5,714.3 695.8,713.3 697.0,712.8C698.2,712.3 698.7,711.4 700.0,711.4C701.3,711.4 703.3,711.7 705.0,712.9C706.7,714.1 708.3,716.7 710.0,718.6C711.7,720.5 713.2,722.4 715.0,724.3C716.8,726.2 718.8,728.5 720.7,730.0C722.6,731.5 724.6,732.6 726.4,733.1C728.2,733.6 730.0,733.2 731.4,732.9C732.8,732.6 733.7,731.2 735.0,731.4C736.3,731.6 737.8,733.1 739.3,734.0C740.8,734.9 742.6,736.7 744.3,736.9C746.0,737.1 747.5,736.2 749.3,735.4C751.1,734.6 753.2,732.8 755.0,732.1C756.8,731.4 758.5,731.0 760.0,731.4C761.5,731.8 762.9,732.4 764.3,734.3C765.7,736.2 767.2,740.2 768.6,742.9C770.0,745.6 771.5,748.5 772.9,750.7C774.3,753.0 775.6,754.9 777.1,756.4C778.6,757.9 780.4,759.1 782.1,759.7C783.8,760.3 785.4,759.4 787.1,760.0C788.8,760.6 790.4,762.4 792.1,763.6C793.8,764.9 795.6,766.6 797.1,767.5C798.6,768.4 799.8,769.2 801.3,768.9C802.8,768.6 804.9,766.8 806.4,765.5C807.9,764.2 809.0,761.9 810.0,761.1C811.0,760.3 811.7,759.9 812.7,760.5C813.8,761.1 815.1,762.1 816.3,765.0C817.5,767.9 818.8,773.3 820.1,777.8C821.4,782.3 822.6,787.6 823.9,792.2C825.1,796.9 826.4,801.8 827.6,805.7C828.8,809.6 830.1,813.7 831.3,815.8C832.5,817.9 833.5,818.3 834.7,818.3C835.9,818.3 837.1,817.3 838.5,816.0C839.9,814.7 841.7,811.6 843.1,810.4C844.5,809.2 845.7,808.6 847.0,808.9C848.3,809.2 849.7,810.0 851.0,812.0C852.3,814.0 853.6,817.8 854.9,820.7C856.2,823.6 857.5,826.4 858.8,829.4C860.1,832.4 861.5,835.6 862.8,838.8C864.1,841.9 865.5,845.7 866.7,848.3C867.9,850.9 868.7,853.3 869.9,854.6C871.1,855.9 872.4,856.2 873.8,856.2C875.2,856.2 876.9,855.6 878.5,854.6C880.1,853.6 881.8,851.1 883.3,850.2C884.8,849.3 885.9,848.6 887.2,849.1C888.5,849.6 889.9,851.0 891.2,853.0C892.5,855.0 893.8,858.5 895.1,860.9C896.4,863.3 897.5,865.9 899.0,867.2C900.5,868.5 902.2,868.8 903.8,868.8C905.4,868.8 906.9,867.4 908.5,867.5C910.1,867.6 911.6,868.9 913.2,869.6C914.8,870.3 916.3,871.3 917.9,871.9C919.5,872.5 921.1,873.2 922.7,873.2C924.3,873.2 925.8,872.8 927.4,871.9C929.0,871.0 930.5,869.3 932.1,868.0C933.7,866.7 935.5,864.9 936.9,864.0C938.3,863.1 939.5,862.8 940.8,862.8C942.1,862.8 943.5,863.5 944.7,864.0C945.9,864.5 947.4,865.3 947.9,865.6" fill="none" stroke="#b2b2b2" stroke-width="1.5" stroke-linejoin="round" stroke-linecap="round"/>
<path d="M63.1,891.4C64.0,891.9 66.8,893.6 68.6,894.3C70.3,894.9 71.9,895.5 73.6,895.3C75.3,895.1 76.8,893.9 78.6,892.9C80.4,891.9 82.4,890.7 84.3,889.3C86.2,887.9 88.1,885.8 90.0,884.3C91.9,882.8 93.8,881.1 95.7,880.0C97.6,878.9 99.5,878.3 101.4,877.9C103.3,877.5 105.1,877.6 107.1,877.6C109.1,877.6 111.7,878.3 113.6,877.9C115.5,877.5 117.0,876.0 118.6,875.0C120.1,874.0 121.6,872.4 122.9,871.7C124.2,871.1 125.1,870.8 126.4,871.1C127.7,871.4 129.1,872.4 130.7,873.6C132.2,874.9 133.9,877.4 135.7,878.6C137.5,879.9 139.5,880.7 141.4,881.1C143.3,881.5 145.3,881.8 147.1,881.1C148.9,880.4 150.6,878.0 152.1,877.1C153.6,876.2 154.7,875.8 156.0,876.0C157.3,876.2 158.7,877.0 160.0,878.6C161.3,880.2 162.3,883.3 163.6,885.7C164.9,888.1 166.3,891.0 167.9,892.9C169.5,894.8 171.2,896.7 172.9,896.9C174.6,897.1 176.2,895.2 177.9,894.3C179.6,893.4 181.1,892.2 182.9,891.4C184.7,890.6 186.7,890.0 188.6,889.3C190.5,888.6 192.4,887.0 194.3,887.1C196.2,887.2 198.1,888.3 200.0,890.0C201.9,891.7 203.8,895.0 205.7,897.1C207.6,899.2 209.2,901.5 211.4,902.9C213.6,904.3 216.3,905.1 218.6,905.7C220.9,906.3 223.1,906.8 225.0,906.4C226.9,906.0 228.3,904.9 230.0,903.6C231.7,902.3 233.6,899.7 235.0,898.6C236.4,897.5 237.0,897.0 238.6,897.1C240.2,897.2 242.5,899.0 244.3,899.3C246.1,899.5 247.6,899.2 249.3,898.6C251.0,898.0 252.8,895.8 254.3,895.4C255.9,895.0 257.2,895.6 258.6,896.4C260.0,897.2 261.3,899.0 262.9,900.0C264.4,901.0 266.2,902.1 267.9,902.4C269.6,902.7 271.4,902.4 272.9,901.9C274.4,901.4 275.8,899.3 277.1,899.3C278.4,899.3 279.5,900.5 280.7,902.1C281.9,903.7 283.0,906.0 284.3,908.6C285.6,911.2 287.3,915.5 288.6,917.9C289.9,920.3 291.0,922.1 292.1,923.1C293.2,924.1 294.0,924.5 295.0,924.0C296.0,923.5 297.1,922.3 297.9,920.0C298.7,917.7 299.3,914.0 300.0,910.0C300.7,906.0 301.4,901.2 302.1,895.7C302.8,890.2 303.6,883.9 304.3,877.1C305.0,870.3 305.7,862.9 306.3,855.0C306.9,847.1 307.4,840.1 308.2,830.0C309.0,819.9 309.9,806.2 311.0,794.3C312.1,782.4 313.4,769.5 314.6,758.6C315.8,747.7 317.0,736.9 318.2,728.6C319.4,720.3 320.5,713.4 321.7,708.6C322.9,703.8 324.2,701.6 325.2,699.8C326.2,698.0 326.8,697.1 327.9,697.9C329.0,698.6 330.8,701.3 332.1,704.3C333.4,707.3 334.4,711.2 335.7,715.7C337.0,720.2 338.6,727.1 340.0,731.4C341.4,735.7 342.9,738.1 344.3,741.4C345.7,744.7 347.2,747.3 348.6,751.4C350.0,755.5 351.5,760.9 352.9,765.7C354.3,770.5 355.7,775.0 357.1,780.0C358.5,785.0 360.0,790.5 361.4,795.7C362.8,800.9 364.5,806.6 365.7,811.0C366.9,815.4 367.4,819.0 368.7,822.2C370.0,825.4 372.2,828.5 373.6,830.1C375.0,831.7 376.1,831.9 377.1,831.9C378.1,831.9 378.7,831.3 379.6,830.1C380.5,828.9 381.4,826.4 382.5,824.7C383.6,823.1 384.9,821.2 386.0,820.2C387.1,819.2 388.0,818.8 389.4,818.8C390.8,818.8 392.5,819.7 394.3,820.2C396.1,820.7 398.4,821.3 400.2,821.7C402.0,822.1 403.5,822.7 405.2,822.7C406.9,822.7 408.5,822.3 410.1,821.7C411.7,821.1 413.5,820.4 415.0,819.3C416.5,818.2 417.7,816.9 419.0,815.3C420.3,813.6 421.6,811.9 422.9,809.4C424.2,806.9 425.5,803.6 426.8,800.5C428.1,797.4 429.7,794.1 430.8,791.0C431.9,787.9 432.9,784.8 433.7,781.8C434.5,778.8 434.6,777.7 435.5,772.9C436.4,768.1 437.9,758.9 439.3,752.9C440.7,746.9 442.2,741.6 443.6,737.1C445.0,732.6 446.5,728.8 447.9,725.7C449.3,722.6 450.6,720.2 452.1,718.6C453.6,717.0 455.3,716.8 457.1,716.4C458.9,716.0 461.2,717.0 462.9,716.4C464.6,715.8 465.7,714.4 467.1,712.9C468.5,711.4 470.0,708.5 471.4,707.1C472.8,705.7 474.4,704.7 475.7,704.7C477.0,704.7 478.0,705.3 479.3,707.1C480.6,708.9 482.2,712.4 483.6,715.7C485.0,719.0 486.5,723.5 487.9,727.1C489.3,730.7 490.7,734.1 492.1,737.1C493.5,740.1 495.0,742.7 496.4,745.0C497.8,747.3 499.3,749.4 500.7,750.7C502.1,752.0 503.4,752.6 505.0,752.6C506.6,752.6 508.3,751.2 510.0,750.7C511.7,750.2 513.5,749.1 515.0,749.3C516.5,749.5 517.6,751.1 519.3,751.9C521.0,752.7 523.1,753.5 525.0,753.9C526.9,754.3 529.0,754.3 530.7,754.3C532.4,754.3 533.6,754.8 535.0,754.0C536.4,753.2 537.9,751.3 539.3,749.3C540.7,747.3 542.2,744.1 543.6,742.1C545.0,740.1 546.4,738.4 547.9,737.1C549.4,735.9 551.4,735.0 552.9,734.6C554.4,734.2 555.8,734.5 557.1,735.0C558.4,735.5 559.1,736.2 560.5,737.6C561.9,739.0 563.9,741.7 565.7,743.6C567.5,745.5 569.5,747.0 571.4,749.3C573.3,751.5 575.2,754.6 577.1,757.1C579.0,759.6 581.0,762.4 582.9,764.3C584.8,766.2 586.5,767.2 588.6,768.3C590.7,769.4 593.3,770.2 595.7,770.7C598.1,771.2 600.8,771.7 602.9,771.4C605.0,771.1 606.9,769.6 608.6,768.9C610.3,768.2 611.5,767.2 612.9,767.4C614.3,767.6 615.7,769.1 617.1,770.0C618.5,770.9 619.9,772.2 621.4,772.9C622.9,773.6 624.7,774.0 626.4,774.0C628.1,774.0 630.0,772.8 631.4,772.6C632.8,772.4 633.8,772.1 635.0,772.9C636.2,773.6 637.4,775.2 638.6,777.1C639.8,779.0 640.9,782.1 642.1,784.3C643.3,786.4 644.5,788.8 645.7,790.0C646.9,791.2 648.1,791.4 649.3,791.4C650.5,791.4 651.6,791.1 652.9,790.0C654.2,788.9 655.7,786.7 657.1,785.0C658.5,783.3 660.0,781.3 661.4,780.0C662.8,778.7 664.3,777.7 665.7,777.4C667.1,777.1 668.3,777.9 670.0,778.3C671.7,778.7 673.8,779.5 675.7,780.0C677.6,780.5 679.5,780.4 681.4,781.1C683.3,781.8 685.2,783.2 687.1,784.3C689.0,785.3 691.2,786.7 692.9,787.4C694.5,788.1 695.7,788.6 697.0,788.7C698.3,788.9 699.3,788.8 700.5,788.3C701.7,787.8 702.9,786.6 704.3,785.7C705.6,784.8 707.2,783.0 708.6,783.1C710.0,783.2 711.4,785.0 712.9,786.4C714.4,787.8 716.1,789.6 717.9,791.4C719.7,793.2 721.7,795.2 723.6,797.1C725.5,799.0 727.5,800.8 729.3,802.9C731.1,805.0 732.6,807.6 734.3,810.0C736.0,812.4 737.8,815.5 739.3,817.1C740.8,818.7 742.3,819.6 743.6,819.7C744.9,819.8 745.9,819.2 747.1,817.9C748.3,816.6 749.5,813.8 750.7,812.1C751.9,810.4 753.1,808.7 754.3,807.9C755.5,807.1 756.6,806.9 757.9,807.1C759.2,807.3 760.7,808.1 762.1,808.9C763.5,809.7 765.0,811.2 766.4,812.1C767.8,813.0 768.9,813.6 770.7,814.0C772.5,814.4 775.4,814.0 777.1,814.6C778.8,815.2 779.4,816.5 780.7,817.9C782.0,819.3 783.3,821.8 785.0,822.9C786.7,824.0 788.8,824.1 790.7,824.3C792.6,824.5 794.8,824.3 796.4,824.3C798.0,824.3 799.3,824.2 800.5,824.5C801.7,824.8 802.5,825.0 803.7,826.2C804.9,827.4 806.2,829.7 807.6,831.7C809.0,833.7 810.5,836.3 812.3,838.0C814.1,839.7 816.5,841.0 818.6,842.0C820.7,843.0 822.8,843.8 824.9,844.3C827.0,844.8 829.4,845.4 831.3,845.1C833.1,844.9 834.6,843.1 836.0,842.8C837.4,842.5 838.6,842.6 839.9,843.5C841.2,844.4 842.6,846.4 843.9,848.3C845.2,850.1 846.5,853.2 847.8,854.6C849.1,856.0 850.4,856.5 851.7,856.5C853.0,856.5 854.4,854.8 855.7,854.6C857.0,854.4 858.3,854.4 859.6,855.4C860.9,856.4 862.2,858.7 863.6,860.9C865.0,863.1 866.7,866.4 868.3,868.8C869.9,871.2 871.4,873.1 873.0,875.1C874.6,877.1 876.3,879.0 877.8,880.6C879.2,882.2 880.4,883.6 881.7,884.5C883.0,885.4 884.3,886.2 885.6,886.1C886.9,886.0 888.3,884.9 889.6,883.7C890.9,882.5 892.2,880.2 893.5,879.0C894.8,877.8 896.0,876.7 897.5,876.6C899.0,876.5 900.6,877.5 902.2,878.2C903.8,878.9 905.2,880.3 906.9,880.6C908.6,880.9 910.8,879.4 912.4,879.8C914.0,880.2 915.1,881.2 916.4,883.0C917.7,884.8 918.9,888.4 920.3,890.8C921.7,893.1 923.4,895.2 925.0,897.1C926.6,899.0 928.2,900.9 929.8,901.9C931.4,902.9 932.9,903.3 934.5,903.4C936.1,903.5 937.6,902.7 939.2,902.7C940.8,902.7 942.5,903.0 944.0,903.4C945.5,903.8 947.2,905.0 947.9,905.3" fill="none" stroke="#d52c38" stroke-width="1.5" stroke-linejoin="round" stroke-linecap="round"/>
<path d="M63.1,867.9C63.8,868.2 65.5,868.6 67.1,870.0C68.7,871.4 71.0,874.9 72.9,876.4C74.8,877.9 76.7,878.2 78.6,879.3C80.5,880.4 82.4,881.7 84.3,882.9C86.2,884.1 88.1,886.3 90.0,886.4C91.9,886.5 93.8,884.4 95.7,883.6C97.6,882.8 99.5,881.5 101.4,881.4C103.3,881.3 105.2,882.2 107.1,882.9C109.0,883.6 111.2,884.8 112.9,885.7C114.6,886.6 115.6,887.7 117.1,888.3C118.6,888.9 120.5,889.5 122.1,889.3C123.6,889.1 125.0,888.4 126.4,887.1C127.8,885.8 129.4,882.9 130.7,881.4C132.0,879.9 133.0,878.5 134.3,878.3C135.6,878.1 136.9,879.1 138.6,880.0C140.3,880.9 142.4,882.6 144.3,883.6C146.2,884.6 148.1,885.0 150.0,885.7C151.9,886.4 153.8,887.3 155.7,887.9C157.6,888.5 159.5,889.2 161.4,889.3C163.3,889.4 165.4,888.5 167.1,888.6C168.8,888.7 170.0,889.2 171.4,890.0C172.8,890.8 174.3,892.8 175.7,893.6C177.1,894.4 178.6,895.1 180.0,895.0C181.4,894.9 182.6,893.7 184.3,892.9C186.0,892.1 188.3,890.7 190.0,890.0C191.7,889.3 192.9,888.5 194.3,888.6C195.7,888.7 197.3,890.7 198.6,890.8C199.9,890.9 200.8,890.1 202.0,889.3C203.2,888.4 204.2,886.8 205.7,885.7C207.1,884.6 209.3,883.2 210.7,882.6C212.1,882.0 212.8,881.6 214.3,882.1C215.9,882.6 217.9,884.7 220.0,885.4C222.1,886.1 224.2,886.2 227.1,886.4C229.9,886.6 234.6,886.7 237.1,886.4C239.6,886.1 240.7,885.0 242.1,884.6C243.5,884.2 244.4,883.5 245.7,884.0C247.0,884.5 248.6,886.1 250.0,887.9C251.4,889.7 252.9,893.1 254.3,895.0C255.7,896.9 257.2,898.4 258.6,899.3C260.0,900.2 261.5,900.5 262.9,900.3C264.3,900.1 265.6,898.8 267.1,898.3C268.6,897.8 270.4,897.0 272.1,897.1C273.8,897.2 275.6,897.8 277.1,898.6C278.7,899.4 280.0,900.4 281.4,902.1C282.8,903.8 284.4,906.6 285.7,908.6C287.0,910.6 288.1,912.9 289.3,914.3C290.5,915.6 291.8,916.6 292.9,916.7C294.0,916.8 295.1,916.6 296.0,915.0C296.9,913.4 297.8,910.1 298.6,907.1C299.4,904.1 300.0,901.1 300.7,897.1C301.4,893.1 302.1,889.8 302.9,882.9C303.7,876.0 304.8,864.9 305.7,855.7C306.6,846.6 307.5,838.2 308.6,828.0C309.7,817.8 310.9,805.1 312.1,794.3C313.3,783.4 314.5,772.4 315.7,762.9C316.9,753.4 318.1,744.1 319.3,737.1C320.5,730.1 321.7,724.4 322.9,720.7C324.1,717.0 325.3,715.7 326.4,715.0C327.5,714.3 328.0,715.1 329.3,716.4C330.6,717.7 332.5,720.9 334.3,722.9C336.1,724.9 338.2,727.1 340.0,728.6C341.8,730.1 343.6,730.8 345.0,732.1C346.4,733.4 347.5,734.4 348.6,736.4C349.7,738.4 350.3,740.8 351.4,744.3C352.5,747.8 353.8,752.6 355.0,757.1C356.2,761.6 357.5,766.4 358.6,771.0C359.7,775.6 360.6,779.5 361.8,784.8C363.0,790.0 364.5,797.2 365.8,802.5C367.1,807.8 368.4,812.7 369.7,816.3C371.0,819.9 372.4,822.4 373.6,824.2C374.8,826.0 376.0,826.5 377.1,827.1C378.2,827.7 379.4,827.8 380.5,827.6C381.6,827.4 382.5,826.3 383.5,825.7C384.5,825.1 385.5,824.3 386.5,824.0C387.5,823.7 388.4,823.4 389.4,823.7C390.4,824.0 391.2,824.9 392.4,825.7C393.5,826.5 395.0,828.0 396.3,828.6C397.6,829.2 398.9,829.5 400.2,829.6C401.5,829.7 402.9,829.6 404.2,829.1C405.5,828.6 406.8,827.9 408.1,826.7C409.4,825.6 410.8,824.1 412.1,822.2C413.4,820.3 414.9,817.9 416.0,815.3C417.1,812.7 418.0,810.3 419.0,806.5C420.0,802.7 420.9,797.3 421.9,792.7C422.9,788.1 423.7,785.2 424.9,779.0C426.1,772.8 427.9,762.7 429.3,755.7C430.8,748.7 432.2,743.1 433.6,737.1C435.0,731.1 436.5,725.5 437.9,720.0C439.3,714.5 440.7,708.6 442.1,704.3C443.5,700.0 445.0,696.7 446.4,694.3C447.8,691.9 449.3,691.0 450.7,690.0C452.1,689.0 453.4,688.5 455.0,688.6C456.6,688.7 458.3,690.0 460.0,690.7C461.7,691.4 463.3,692.7 465.0,692.6C466.7,692.5 468.4,690.7 470.0,690.0C471.6,689.3 473.0,688.4 474.3,688.6C475.6,688.8 476.6,689.5 477.9,691.4C479.2,693.3 480.7,697.1 482.1,700.0C483.5,702.9 484.8,705.8 486.4,708.6C487.9,711.5 489.7,714.7 491.4,717.1C493.1,719.5 494.7,720.8 496.4,722.9C498.1,725.0 499.7,727.9 501.4,730.0C503.1,732.1 504.7,734.4 506.4,735.7C508.1,737.0 509.7,737.8 511.4,737.9C513.1,738.0 514.7,736.9 516.4,736.4C518.1,735.9 519.7,735.1 521.4,735.0C523.1,734.9 524.7,736.1 526.4,736.0C528.1,735.9 529.8,735.6 531.4,734.6C533.0,733.6 534.4,731.5 535.7,730.0C537.0,728.5 538.2,726.5 539.3,725.7C540.4,724.9 540.9,725.1 542.1,725.3C543.3,725.5 544.9,726.8 546.4,727.1C547.9,727.4 549.7,726.9 551.4,726.9C553.1,726.9 554.9,726.9 556.4,727.1C557.9,727.3 559.2,727.8 560.5,728.0C561.8,728.2 562.9,727.6 564.3,728.2C565.6,728.8 567.2,729.4 568.6,731.4C570.0,733.4 571.5,736.9 572.9,740.0C574.3,743.1 575.7,746.7 577.1,750.0C578.5,753.3 580.0,756.9 581.4,760.0C582.8,763.1 584.3,765.9 585.7,768.6C587.1,771.3 588.5,773.9 590.0,776.4C591.5,778.9 593.2,781.7 595.0,783.6C596.8,785.5 598.7,786.7 600.7,787.9C602.7,789.1 605.1,789.9 607.1,790.7C609.1,791.5 611.1,792.2 612.9,792.6C614.7,793.0 616.5,793.2 617.9,792.9C619.3,792.6 620.1,791.9 621.4,790.7C622.7,789.5 624.3,787.1 625.7,785.7C627.1,784.3 628.3,782.9 630.0,782.1C631.7,781.3 633.8,781.5 635.7,781.1C637.6,780.7 639.5,780.4 641.4,779.7C643.3,779.0 645.2,777.8 647.1,777.1C649.0,776.4 651.0,776.0 652.9,775.4C654.8,774.8 656.8,774.2 658.6,773.6C660.4,773.0 661.9,771.7 663.6,771.7C665.3,771.7 666.8,772.9 668.6,773.6C670.4,774.3 672.4,775.1 674.3,775.7C676.2,776.3 678.3,777.0 680.0,777.1C681.7,777.2 682.9,777.0 684.3,776.4C685.7,775.8 687.1,774.5 688.6,773.6C690.1,772.7 692.0,771.5 693.2,771.2C694.4,770.9 694.9,770.8 696.0,771.8C697.1,772.8 698.5,775.7 700.0,777.1C701.5,778.5 703.3,779.3 705.0,780.3C706.7,781.3 708.3,781.6 710.0,782.9C711.7,784.2 713.3,786.4 715.0,787.9C716.7,789.4 718.3,791.1 720.0,792.1C721.7,793.1 723.2,793.8 725.0,794.0C726.8,794.2 728.8,793.8 730.7,793.6C732.6,793.4 734.6,792.2 736.4,792.6C738.2,793.0 739.7,794.6 741.4,795.7C743.1,796.8 744.7,797.9 746.4,799.3C748.1,800.7 749.7,802.5 751.4,804.3C753.1,806.1 754.7,808.1 756.4,810.0C758.1,811.9 759.8,814.1 761.4,815.7C763.0,817.3 764.3,818.9 765.7,819.7C767.1,820.5 768.6,820.4 770.0,820.3C771.4,820.2 773.0,819.2 774.3,819.0C775.6,818.8 776.6,818.5 777.9,819.3C779.2,820.1 780.7,821.9 782.1,823.6C783.5,825.3 785.0,827.4 786.4,829.3C787.8,831.2 789.3,833.7 790.7,835.0C792.1,836.3 793.6,836.9 795.0,837.2C796.4,837.5 797.6,837.6 798.9,837.0C800.2,836.4 801.6,834.4 802.9,833.3C804.2,832.2 805.5,830.6 806.8,830.6C808.1,830.6 809.5,831.7 810.8,833.3C812.1,834.9 813.4,838.0 814.7,840.4C816.0,842.8 817.2,845.3 818.6,847.5C820.0,849.7 821.8,852.3 823.4,853.8C825.0,855.3 826.5,856.0 828.1,856.5C829.7,857.0 831.3,856.3 832.8,856.9C834.2,857.5 835.3,858.5 836.8,860.1C838.2,861.7 839.9,864.6 841.5,866.4C843.1,868.2 844.6,869.8 846.2,871.1C847.8,872.4 849.4,873.6 851.0,874.3C852.6,875.0 854.1,875.3 855.7,875.4C857.3,875.5 858.8,875.2 860.4,874.8C862.0,874.3 863.5,873.7 865.1,872.7C866.7,871.7 868.5,870.0 869.9,868.8C871.3,867.6 872.6,866.2 873.8,865.6C875.0,865.0 875.8,864.8 877.0,865.3C878.2,865.8 879.6,867.6 880.9,868.8C882.2,870.0 883.3,871.7 884.8,872.7C886.2,873.7 888.0,874.6 889.6,874.8C891.2,875.0 892.9,874.1 894.3,873.8C895.7,873.4 897.0,873.0 898.2,872.7C899.4,872.4 900.2,871.9 901.4,872.2C902.6,872.5 903.8,873.7 905.3,874.3C906.8,874.9 908.2,875.7 910.1,875.9C912.0,876.1 914.3,875.8 916.4,875.5C918.5,875.2 920.6,874.4 922.7,874.3C924.8,874.2 926.9,874.7 929.0,874.8C931.1,874.9 933.5,875.2 935.3,875.1C937.1,875.0 938.5,874.3 940.0,874.3C941.5,874.2 942.7,874.4 944.0,874.8C945.3,875.2 947.2,876.3 947.9,876.6" fill="none" stroke="#44d94f" stroke-width="1.5" stroke-linejoin="round" stroke-linecap="round"/>
<path d="M63.1,878.6C63.9,878.0 66.4,875.9 67.9,875.0C69.4,874.1 70.6,873.1 72.1,873.1C73.6,873.1 75.5,874.6 77.1,875.0C78.6,875.4 80.0,875.5 81.4,875.7C82.8,875.9 84.3,875.6 85.7,876.4C87.1,877.2 88.6,879.3 90.0,880.7C91.4,882.1 92.9,883.9 94.3,885.0C95.7,886.1 97.2,887.0 98.6,887.4C100.0,887.8 101.2,887.9 102.9,887.4C104.6,886.9 106.7,885.0 108.6,884.3C110.5,883.5 112.2,883.1 114.3,882.9C116.4,882.7 119.0,882.9 121.4,883.1C123.8,883.3 126.2,884.0 128.6,884.3C131.0,884.6 133.3,884.8 135.7,885.0C138.1,885.2 140.5,885.4 142.9,885.3C145.3,885.2 147.9,884.8 150.0,884.3C152.1,883.8 153.8,882.8 155.7,882.6C157.6,882.4 159.7,882.5 161.4,882.9C163.1,883.3 164.3,884.8 165.7,885.0C167.1,885.2 168.6,883.8 170.0,884.0C171.4,884.2 172.9,885.0 174.3,886.4C175.7,887.8 177.2,890.7 178.6,892.1C180.0,893.5 181.5,894.6 182.9,895.0C184.3,895.4 185.7,894.9 187.1,894.3C188.5,893.6 190.1,891.9 191.4,891.1C192.7,890.3 193.7,889.0 195.0,889.3C196.3,889.6 197.5,891.3 199.3,892.9C201.1,894.5 203.7,896.7 205.7,898.6C207.7,900.5 209.8,902.9 211.4,904.3C213.0,905.7 213.7,906.9 215.0,906.9C216.3,906.9 217.9,905.2 219.3,904.3C220.7,903.4 222.3,901.7 223.6,901.7C224.9,901.7 225.9,903.0 227.1,904.3C228.3,905.6 229.5,908.2 230.7,909.3C231.9,910.4 233.1,911.2 234.3,911.0C235.5,910.8 236.7,909.2 237.9,907.9C239.1,906.5 240.1,904.2 241.4,902.9C242.7,901.6 244.3,900.6 245.7,900.3C247.1,900.0 248.7,901.3 250.0,901.1C251.3,900.9 252.4,900.9 253.6,899.3C254.8,897.7 255.9,894.1 257.1,891.4C258.3,888.7 259.5,885.0 260.7,882.9C261.9,880.8 263.1,879.4 264.3,878.9C265.5,878.4 266.7,879.1 267.9,880.0C269.1,880.9 270.1,883.2 271.4,884.3C272.7,885.4 274.3,885.7 275.7,886.4C277.1,887.1 278.6,887.5 280.0,888.3C281.4,889.1 282.9,889.9 284.3,891.4C285.7,892.9 287.3,895.4 288.6,897.1C289.9,898.8 291.0,900.6 292.1,901.4C293.2,902.2 294.0,902.5 295.0,902.1C296.0,901.8 297.1,901.1 297.9,899.3C298.7,897.5 299.3,894.6 300.0,891.4C300.7,888.2 301.4,884.8 302.1,880.0C302.8,875.2 303.5,869.3 304.3,862.9C305.1,856.5 306.3,847.5 307.1,841.4C307.9,835.2 308.2,833.9 308.9,826.0C309.6,818.1 310.4,805.5 311.4,794.3C312.4,783.1 313.8,769.5 315.0,758.6C316.2,747.7 317.4,736.9 318.6,728.6C319.8,720.3 320.9,713.5 322.1,708.6C323.3,703.7 324.6,701.2 325.7,699.3C326.8,697.3 327.7,696.8 328.6,696.9C329.6,697.0 330.4,698.0 331.4,700.0C332.3,702.0 333.2,704.8 334.3,708.6C335.4,712.4 336.6,717.9 337.9,722.9C339.2,727.9 340.6,733.9 342.1,738.6C343.6,743.4 345.6,747.1 347.1,751.4C348.7,755.7 350.0,760.2 351.4,764.3C352.8,768.4 353.9,771.8 355.3,776.0C356.7,780.2 358.3,785.5 359.9,789.7C361.5,794.0 363.3,798.4 364.8,801.5C366.3,804.6 367.5,806.9 368.7,808.5C369.9,810.1 371.0,810.8 372.2,811.0C373.4,811.2 374.5,810.9 375.6,809.9C376.8,808.9 378.0,806.6 379.1,805.0C380.2,803.4 381.4,801.5 382.5,800.5C383.6,799.5 384.7,799.2 385.8,799.3C386.9,799.4 387.9,800.0 389.0,801.0C390.1,802.0 391.3,803.6 392.4,805.0C393.5,806.4 394.6,808.2 395.8,809.2C397.0,810.2 398.1,810.9 399.3,811.2C400.5,811.5 401.7,811.5 402.8,810.9C403.9,810.2 404.8,809.2 405.9,807.3C407.0,805.4 408.3,802.2 409.3,799.5C410.3,796.8 411.2,793.8 412.1,791.0C413.1,788.2 414.0,786.2 415.0,783.0C416.0,779.8 416.8,776.3 418.3,772.0C419.9,767.7 422.2,762.0 424.3,757.1C426.4,752.2 428.7,747.6 430.7,742.9C432.7,738.1 434.5,732.9 436.4,728.6C438.3,724.3 440.2,720.7 442.1,717.1C444.0,713.5 446.0,710.2 447.9,707.1C449.8,704.0 451.7,701.7 453.6,698.6C455.5,695.5 457.5,691.2 459.3,688.6C461.1,686.0 462.6,684.1 464.3,682.9C466.0,681.6 467.6,681.1 469.3,681.1C471.0,681.1 472.8,681.5 474.3,682.6C475.9,683.7 477.2,685.8 478.6,687.9C480.0,690.0 481.6,693.3 482.9,695.0C484.2,696.7 485.1,697.9 486.4,698.3C487.7,698.7 489.4,697.7 490.7,697.4C492.0,697.1 493.0,696.1 494.3,696.4C495.6,696.7 497.1,698.0 498.6,699.3C500.2,700.6 501.8,702.5 503.6,704.3C505.4,706.1 507.4,708.5 509.3,710.0C511.2,711.5 513.0,712.7 515.0,713.3C517.0,713.9 519.5,713.2 521.4,713.6C523.3,714.0 524.8,715.0 526.4,715.4C528.0,715.8 529.3,716.4 530.7,716.0C532.1,715.6 533.3,713.9 535.0,712.9C536.7,711.9 538.8,711.0 540.7,710.3C542.6,709.6 544.6,709.6 546.4,708.9C548.2,708.2 549.8,706.3 551.4,706.1C553.0,705.9 554.2,706.8 555.7,707.9C557.2,709.0 558.8,710.9 560.5,712.7C562.2,714.5 563.9,716.6 565.7,718.6C567.5,720.6 569.5,723.5 571.4,725.0C573.3,726.5 575.4,726.5 577.1,727.9C578.8,729.3 580.0,731.4 581.4,733.6C582.8,735.9 584.2,738.8 585.7,741.4C587.2,744.0 589.0,747.3 590.7,749.3C592.4,751.3 594.2,752.8 595.7,753.6C597.2,754.4 598.6,754.4 600.0,754.0C601.4,753.6 602.9,752.0 604.3,751.4C605.7,750.8 607.3,749.8 608.6,750.4C609.9,751.0 610.9,753.0 612.1,755.0C613.3,757.0 614.5,760.1 615.7,762.1C616.9,764.1 618.1,766.0 619.3,767.1C620.5,768.2 621.6,768.9 622.9,768.9C624.2,768.9 625.4,768.4 627.1,767.1C628.8,765.9 631.0,763.3 632.9,761.4C634.8,759.5 636.7,757.4 638.6,755.7C640.5,754.0 642.4,752.5 644.3,751.4C646.2,750.3 648.1,749.5 650.0,749.3C651.9,749.1 653.8,749.5 655.7,750.0C657.6,750.5 659.6,751.4 661.4,752.1C663.2,752.8 664.8,753.1 666.4,754.3C668.0,755.5 669.3,757.4 670.7,759.3C672.1,761.2 673.7,763.7 675.0,765.7C676.3,767.7 677.4,770.1 678.6,771.4C679.8,772.7 680.8,773.7 682.1,773.6C683.4,773.5 685.0,771.9 686.4,770.7C687.8,769.5 689.3,767.4 690.7,766.4C692.1,765.4 693.5,764.8 695.0,764.6C696.5,764.5 698.2,764.5 699.7,765.5C701.2,766.5 702.8,768.9 704.3,770.7C705.8,772.5 706.9,775.3 708.6,776.4C710.3,777.5 712.3,777.2 714.3,777.1C716.3,777.0 718.4,776.3 720.7,775.7C723.0,775.1 725.5,774.1 727.9,773.6C730.3,773.1 732.9,773.0 735.0,772.9C737.1,772.8 738.9,772.4 740.7,772.9C742.5,773.4 744.0,774.5 745.7,775.7C747.4,776.9 749.0,778.6 750.7,780.0C752.4,781.4 754.2,782.5 755.7,784.3C757.2,786.1 758.6,788.8 760.0,790.7C761.4,792.6 762.9,794.3 764.3,795.7C765.7,797.1 767.2,798.3 768.6,799.3C770.0,800.2 771.4,801.1 772.9,801.4C774.4,801.7 776.4,800.7 777.9,801.1C779.4,801.5 780.7,802.2 782.1,803.6C783.5,805.0 785.1,807.9 786.4,809.3C787.7,810.7 788.8,812.2 790.0,812.1C791.2,812.0 792.4,810.4 793.6,808.6C794.8,806.8 796.1,802.8 797.3,801.2C798.5,799.6 799.7,798.6 800.9,798.8C802.1,799.0 803.2,800.3 804.4,802.3C805.6,804.3 806.9,808.0 808.1,811.0C809.3,814.0 810.4,816.9 811.8,820.0C813.2,823.1 814.8,826.8 816.3,829.5C817.8,832.2 819.1,834.0 820.8,836.0C822.5,838.0 824.5,840.0 826.5,841.2C828.5,842.5 830.8,842.6 832.8,843.5C834.8,844.4 836.4,845.5 838.3,846.7C840.1,847.9 842.0,849.3 843.9,850.6C845.8,851.9 847.7,853.6 849.4,854.6C851.1,855.6 852.4,856.2 854.1,856.5C855.8,856.8 857.8,856.8 859.6,856.5C861.4,856.2 863.2,855.1 865.1,854.9C867.0,854.7 869.0,855.2 870.7,855.4C872.4,855.5 873.8,856.3 875.4,855.8C877.0,855.3 878.5,854.1 880.1,852.2C881.7,850.3 883.2,847.0 884.8,844.3C886.4,841.5 888.0,838.0 889.6,835.7C891.2,833.4 892.7,831.7 894.3,830.6C895.9,829.5 897.4,829.4 899.0,829.4C900.6,829.4 902.2,830.0 903.8,830.9C905.4,831.8 906.9,833.3 908.5,834.9C910.1,836.5 911.6,838.3 913.2,840.4C914.8,842.5 916.3,845.3 917.9,847.5C919.5,849.7 921.2,852.3 922.7,853.8C924.2,855.3 925.3,856.1 926.6,856.6C927.9,857.1 929.3,857.2 930.6,856.5C931.9,855.8 933.2,853.8 934.5,852.2C935.8,850.7 937.2,848.2 938.4,847.2C939.6,846.2 940.5,846.1 941.6,846.4C942.7,846.7 943.7,848.1 944.7,849.1C945.8,850.1 947.4,851.7 947.9,852.2" fill="none" stroke="#242424" stroke-width="1.5" stroke-linejoin="round" stroke-linecap="round"/>
<line x1="62.00" y1="566.0" x2="950.30" y2="566.0" stroke="#a8a8a8" stroke-width="1.9"/>
<line x1="949.65" y1="566.0" x2="949.65" y2="1013.0" stroke="#8e8e8e" stroke-width="1.3"/>
<line x1="62.00" y1="1013.0" x2="950.30" y2="1013.0" stroke="#9c9c9c" stroke-width="1.6"/>
<line x1="63.0" y1="566.0" x2="63.0" y2="1013.0" stroke="#a8a8a8" stroke-width="2.0"/>
<line x1="63.0" y1="1013.3" x2="65.1" y2="1013.3" stroke="#9a9a9a" stroke-width="1"/>
<line x1="63.0" y1="949.4" x2="65.1" y2="949.4" stroke="#9a9a9a" stroke-width="1"/>
<line x1="63.0" y1="885.5" x2="65.1" y2="885.5" stroke="#9a9a9a" stroke-width="1"/>
<line x1="63.0" y1="821.6" x2="65.1" y2="821.6" stroke="#9a9a9a" stroke-width="1"/>
<line x1="63.0" y1="757.7" x2="65.1" y2="757.7" stroke="#9a9a9a" stroke-width="1"/>
<line x1="63.0" y1="693.8" x2="65.1" y2="693.8" stroke="#9a9a9a" stroke-width="1"/>
<line x1="63.0" y1="629.9" x2="65.1" y2="629.9" stroke="#9a9a9a" stroke-width="1"/>
<line x1="63.0" y1="566.0" x2="65.1" y2="566.0" stroke="#9a9a9a" stroke-width="1"/>
<line x1="63.1" y1="1013.0" x2="63.1" y2="1010.1" stroke="#a4a4a4" stroke-width="1"/>
<line x1="136.8" y1="1013.0" x2="136.8" y2="1010.1" stroke="#a4a4a4" stroke-width="1"/>
<line x1="210.5" y1="1013.0" x2="210.5" y2="1010.1" stroke="#a4a4a4" stroke-width="1"/>
<line x1="284.2" y1="1013.0" x2="284.2" y2="1010.1" stroke="#a4a4a4" stroke-width="1"/>
<line x1="357.9" y1="1013.0" x2="357.9" y2="1010.1" stroke="#a4a4a4" stroke-width="1"/>
<line x1="431.6" y1="1013.0" x2="431.6" y2="1010.1" stroke="#a4a4a4" stroke-width="1"/>
<line x1="505.3" y1="1013.0" x2="505.3" y2="1010.1" stroke="#a4a4a4" stroke-width="1"/>
<line x1="579.0" y1="1013.0" x2="579.0" y2="1010.1" stroke="#a4a4a4" stroke-width="1"/>
<line x1="652.8" y1="1013.0" x2="652.8" y2="1010.1" stroke="#a4a4a4" stroke-width="1"/>
<line x1="726.5" y1="1013.0" x2="726.5" y2="1010.1" stroke="#a4a4a4" stroke-width="1"/>
<line x1="800.2" y1="1013.0" x2="800.2" y2="1010.1" stroke="#a4a4a4" stroke-width="1"/>
<line x1="873.9" y1="1013.0" x2="873.9" y2="1010.1" stroke="#a4a4a4" stroke-width="1"/>
<line x1="947.6" y1="1013.0" x2="947.6" y2="1010.1" stroke="#cdcdcd" stroke-width="1"/>
<text x="54.6" y="1022.0" text-anchor="end" font-size="24">-10.0</text>
<text x="54.6" y="958.1" text-anchor="end" font-size="24">-5.0</text>
<text x="54.6" y="894.2" text-anchor="end" font-size="24">0.0</text>
<text x="54.6" y="830.3" text-anchor="end" font-size="24">5.0</text>
<text x="54.6" y="766.4" text-anchor="end" font-size="24">10.0</text>
<text x="54.6" y="702.5" text-anchor="end" font-size="24">15.0</text>
<text x="54.6" y="638.6" text-anchor="end" font-size="24">20.0</text>
<text x="54.6" y="574.7" text-anchor="end" font-size="24">25.0</text>
<text x="64.5" y="1045.3" text-anchor="middle" font-size="24">-200</text>
<text x="211.9" y="1045.3" text-anchor="middle" font-size="24">0</text>
<text x="359.3" y="1045.3" text-anchor="middle" font-size="24">200</text>
<text x="506.7" y="1045.3" text-anchor="middle" font-size="24">400</text>
<text x="654.2" y="1045.3" text-anchor="middle" font-size="24">600</text>
<text x="801.6" y="1045.3" text-anchor="middle" font-size="24">800</text>
<text x="904.6" y="1045.3" font-size="24">1,000</text>
<text x="977" y="1045.3" font-size="24">ms</text>
<text x="507.8" y="550.6" text-anchor="middle" font-size="24">Oz</text>
<text x="933.3" y="596.2" text-anchor="end" font-size="24">IPV exposed</text>
<rect x="812.1" y="908.3" width="42.0" height="6" fill="#a6a6a6"/>
<text transform="translate(870.0,918.6) scale(1.0866,1)" class="lg" font-size="20.5">Animal</text>
<rect x="812.1" y="935.5" width="42.0" height="6" fill="#ff0000"/>
<text transform="translate(870.0,946.7) scale(1.0418,1)" class="lg" font-size="20.5">Angry</text>
<rect x="812.1" y="962.5" width="42.0" height="6" fill="#00b050"/>
<text transform="translate(869.2,973.8) scale(1.0731,1)" class="lg" font-size="20.5">Happy</text>
<rect x="812.1" y="989.7" width="42.0" height="6" fill="#000000"/>
<text transform="translate(869.2,1004.2) scale(1.1227,1)" class="lg" font-size="20.5">Neutral</text>
</g>
</svg>
</body></html>
